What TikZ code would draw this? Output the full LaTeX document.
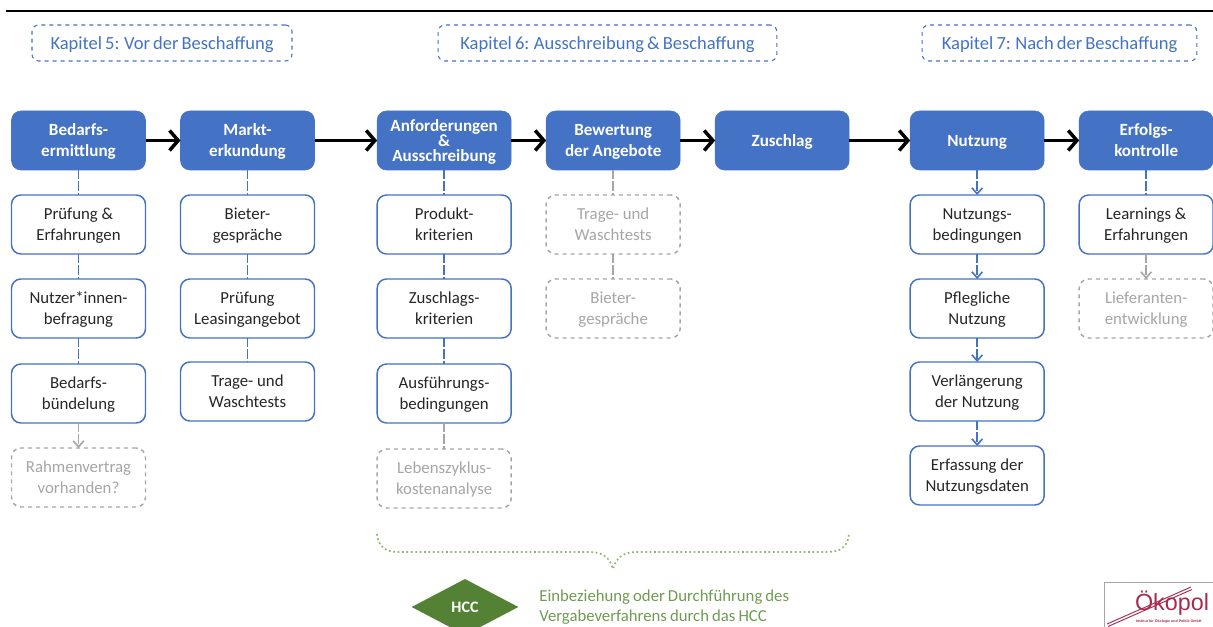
\documentclass[tikz,border=0pt]{standalone}
\usepackage{fontspec}
\setmainfont{Carlito}
\newfontfamily\logofont{Liberation Sans}
\newcommand{\tightwords}{\spaceskip=2.3pt\relax}
\usetikzlibrary{positioning}
\usetikzlibrary{arrows.meta}
\usetikzlibrary{shapes.geometric}
\definecolor{kapitelblue}{HTML}{4472C4}
\definecolor{optgray}{HTML}{A6A6A6}
\definecolor{hccgreen}{HTML}{548235}
\definecolor{hcctext}{HTML}{6F9A50}
\definecolor{bracegreen}{HTML}{8DB870}
\definecolor{logored}{HTML}{A62B4E}

\begin{document}
\begin{tikzpicture}[
			x = 0.75pt, y = -0.75pt,
			node distance = 18.75pt and 26.25pt,
			every node/.style = {
				align = center, outer sep = 0, inner sep = 0,
				font = \fontsize{12.6}{15.75}\selectfont,
			},
			kapitel/.style = {
				thick, draw = kapitelblue, dashed, rounded corners = 5pt,
				text = kapitelblue, minimum height = 27pt, text depth = 0pt,
				font = \fontsize{13.9}{16}\selectfont\tightwords,
			},
			phase/.style = {
				draw = kapitelblue, fill = kapitelblue, text = white,
				rounded corners = 7pt, text depth = 0pt,
				minimum width = 100.5pt, minimum height = 44.25pt,
				font = \fontsize{12.8}{15.75}\selectfont\bfseries,
			},
			step box/.style = {
				draw = kapitelblue, line width = 1.1pt, fill = white,
				text = black!85, rounded corners = 7pt, text depth = 0pt,
				minimum width = 100.5pt, minimum height = 44.25pt,
			},
			optional/.style = {
				step box, draw = optgray, dashed, text = optgray,
			},
			flow/.style = {
				line width = 2.6pt, draw = black,
				-{Straight Barb[length = 6.5pt, width = 15pt]},
			},
			link/.style = {
				line width = 1.2pt, draw = kapitelblue,
				dash pattern = on 7pt off 1.5pt,
			},
			linkarrow/.style = {
				link, -{Straight Barb[length = 4.5pt, width = 8pt]},
			},
			optlink/.style = {link, draw = optgray},
			optarrow/.style = {linkarrow, draw = optgray},
		]

		\useasboundingbox (0, 0) rectangle (1213, 627);

		\draw[line width = 0.8pt] (6, 11) coordinate (ruleL) -- (1213, 11) coordinate (ruleR);

		\node[kapitel, minimum width = 195pt] (K5) at (162, 43) {Kapitel 5: Vor der Beschaffung};
		\node[kapitel, minimum width = 254pt] (K6) at (607.5, 43) {Kapitel 6: Ausschreibung \& Beschaffung};
		\node[kapitel, minimum width = 206pt] (K7) at (1059.5, 43) {Kapitel 7: Nach der Beschaffung};

		\node[phase] (Bedarf) at (78.5, 140.5) {Bedarfs-\\ermittlung};
		\node[phase, right = of Bedarf] (Markt) {Markt-\\erkundung};
		\node[
			phase, right = 47pt of Markt,
			font = \fontsize{12.8}{11.6}\selectfont\bfseries,
		] (Anf) {Anforderungen\\\&\\Ausschreibung};
		\node[phase, right = of Anf] (Bewert) {Bewertung\\der Angebote};
		\node[phase, right = of Bewert] (Zuschlag) {Zuschlag};
		\node[phase, right = 45.75pt of Zuschlag] (Nutzung) {Nutzung};
		\node[phase, right = of Nutzung] (Erfolg) {Erfolgs-\\kontrolle};

		\node[step box, below = of Bedarf] (Pruef) {Prüfung \&\\Erfahrungen};
		\node[step box, below = of Pruef] (Befrag) {Nutzer*innen-\\befragung};
		\node[step box, below = 19.5pt of Befrag] (Buendel) {Bedarfs-\\bündelung};
		\node[optional, below = of Buendel] (Rahmen) {Rahmenvertrag\\vorhanden?};

		\node[step box, below = of Markt] (BietGes) {Bieter-\\gespräche};
		\node[step box, below = of BietGes] (Leasing) {Prüfung\\Leasingangebot};
		\node[step box, below = 18pt of Leasing] (Tests) {Trage- und\\Waschtests};

		\node[step box, below = of Anf] (Produkt) {Produkt-\\kriterien};
		\node[step box, below = of Produkt] (ZKrit) {Zuschlags-\\kriterien};
		\node[step box, below = 19.5pt of ZKrit] (Ausf) {Ausführungs-\\bedingungen};
		\node[optional, below = 19.5pt of Ausf] (Leben) {Lebenszyklus-\\kostenanalyse};

		\node[optional, below = of Bewert] (OptTests) {Trage- und\\Waschtests};
		\node[optional, below = of OptTests] (OptBiet) {Bieter-\\gespräche};

		\node[step box, below = of Nutzung] (NBed) {Nutzungs-\\bedingungen};
		\node[step box, below = of NBed] (Pflege) {Pflegliche\\Nutzung};
		\node[step box, below = 18pt of Pflege] (Verl) {Verlängerung\\der Nutzung};
		\node[step box, below = of Verl] (Erfass) {Erfassung der\\Nutzungsdaten};

		\node[step box, below = of Erfolg] (Learn) {Learnings \&\\Erfahrungen};
		\node[optional, below = of Learn] (Liefer) {Lieferanten-\\entwicklung};

		\draw[flow] (Bedarf) to (Markt);
		\draw[flow] (Markt) to (Anf);
		\draw[flow] (Anf) to (Bewert);
		\draw[flow] (Bewert) to (Zuschlag);
		\draw[flow] (Zuschlag) to (Nutzung);
		\draw[flow] (Nutzung) to (Erfolg);

		\draw[link] (Bedarf) to (Pruef);
		\draw[link] (Pruef) to (Befrag);
		\draw[link] (Befrag) to (Buendel);
		\draw[optarrow] (Buendel) to (Rahmen);

		\draw[link] (Markt) to (BietGes);
		\draw[link] (BietGes) to (Leasing);
		\draw[link] (Leasing) to (Tests);

		\draw[link] (Anf) to (Produkt);
		\draw[link] (Produkt) to (ZKrit);
		\draw[link] (ZKrit) to (Ausf);
		\draw[optlink] (Ausf) to (Leben);

		\draw[optlink] (Bewert) to (OptTests);
		\draw[optlink] (OptTests) to (OptBiet);

		\draw[linkarrow] (Nutzung) to (NBed);
		\draw[linkarrow] (NBed) to (Pflege);
		\draw[linkarrow] (Pflege) to (Verl);
		\draw[linkarrow] (Verl) to (Erfass);

		\draw[link] (Erfolg) to (Learn);
		\draw[optarrow] (Learn) to (Liefer);

		\draw[bracegreen, line width = 1.3pt, dotted]
			(377, 534) .. controls (378, 546) and (385, 552) .. (398, 552)
			-- (590, 552) .. controls (603, 552) and (610, 558) .. (613, 569)
			.. controls (616, 558) and (623, 552) .. (636, 552)
			-- (828, 552) .. controls (841, 552) and (848, 546) .. (849, 534);

		\node[
			diamond, fill = hccgreen, text = white, aspect = 1.9,
			minimum width = 80pt, minimum height = 42pt,
			font = \fontsize{12}{14}\selectfont\bfseries,
		] (HCC) at (465, 607) {HCC};
		\node[
			right = 15.75pt of HCC, align = left, text = hcctext,
			font = \fontsize{12.55}{15}\selectfont\tightwords,
		] (HCCtext) {Einbeziehung oder Durchführung des\\Vergabeverfahrens durch das HCC};

		\draw[optgray, line width = 0.5pt] (1213, 582) -- (1104, 582) -- (1104, 627);
		\draw[logored, line width = 0.7pt] (1107, 624) -- (1191, 587);
		\draw[logored, line width = 0.7pt] (1108, 626.5) -- (1192, 589.5);
		\node[
			anchor = base west, text = logored,
			font = \logofont\fontsize{17.5}{18}\selectfont,
		] (Logo) at (1135, 610) {Ökopol};
		\node[
			anchor = west, text = logored,
			font = \logofont\bfseries\fontsize{2.7}{3}\selectfont,
		] (LogoSub) at (1136, 621) {Institut für Ökologie und Politik GmbH};
	\end{tikzpicture}
\end{document}
